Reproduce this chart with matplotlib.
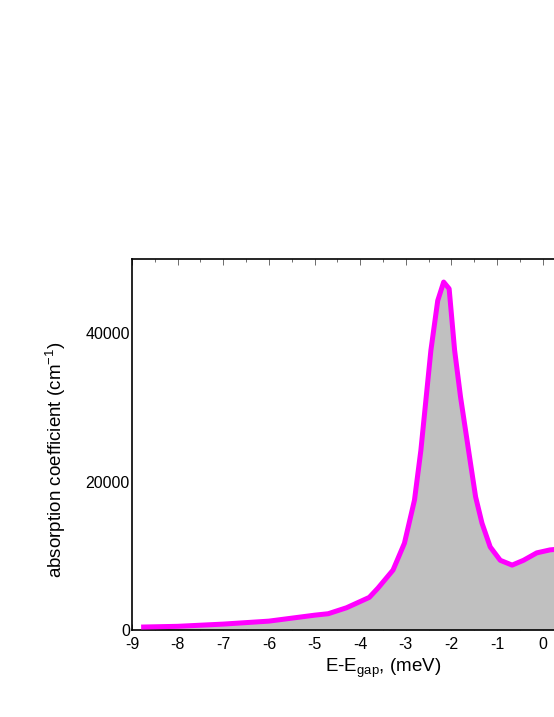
import matplotlib.pyplot as plt
from matplotlib.ticker import MultipleLocator

plt.rcParams['font.family'] = ['Liberation Sans', 'DejaVu Sans']
plt.rcParams['mathtext.fontset'] = 'custom'
plt.rcParams['mathtext.rm'] = 'Liberation Sans'

# energy relative to the gap (meV) and absorption (cm^-1)
energy = [-8.8, -8.0, -7.0, -6.0, -5.5, -5.0, -4.7, -4.3, -3.8, -3.61, -3.28,
          -3.03, -2.81, -2.67, -2.45, -2.30, -2.17, -2.05, -1.93, -1.80, -1.69,
          -1.58, -1.47, -1.33, -1.15, -0.93, -0.67, -0.42, -0.13, 0.16, 0.5,
          1.0, 1.5, 2.0]
absorption = [400, 500, 800, 1200, 1600, 2000, 2200, 3000, 4400, 5650, 8080,
              11700, 17500, 24200, 37700, 44400, 46900, 46000, 37700, 31400, 26900,
              22400, 17950, 14400, 11200, 9400, 8750, 9400, 10400, 10800, 11000,
              11000, 10800, 10600]

xticks = [-9, -8, -7, -6, -5, -4, -3, -2, -1, 0, 1, 2]
yticks = [0, 20000, 40000]

fig = plt.figure(figsize=(5.54, 7.17), dpi=100)
ax = fig.add_axes([0.2383, 0.1213, 0.906, 0.5174])

ax.fill_between(energy, absorption, 0, color='#c0c0c0', linewidth=0, zorder=2)
ax.plot(energy, absorption, color='#ff00ff', linewidth=3.6, zorder=3,
        solid_joinstyle='round', solid_capstyle='butt')

ax.set_xlim(-9, 1.9)
ax.set_ylim(0, 50000)
ax.set_xticks(xticks)
ax.set_xticklabels([str(t) for t in xticks])
ax.set_yticks(yticks)
ax.set_yticklabels([str(t) for t in yticks])
ax.xaxis.set_minor_locator(MultipleLocator(0.5))

ax.tick_params(axis='both', which='both', direction='in', top=True,
               labelsize=11.5, color='#555555', width=0.6)
ax.tick_params(axis='x', which='major', length=4, pad=5)
ax.tick_params(axis='x', which='minor', length=2.5)
ax.tick_params(axis='y', which='major', length=0, pad=1.5)
for s in ax.spines.values():
    s.set_linewidth(1.2)

ax.set_xlabel('E-E$_{\\mathregular{gap}}$, (meV)', fontsize=13.5, labelpad=3)
ax.set_ylabel('absorption coefficient (cm$^{\\mathregular{-1}}$)', fontsize=13.5)
ax.yaxis.set_label_coords(-0.127, 0.46)

fig.savefig('out.png', dpi=100)
